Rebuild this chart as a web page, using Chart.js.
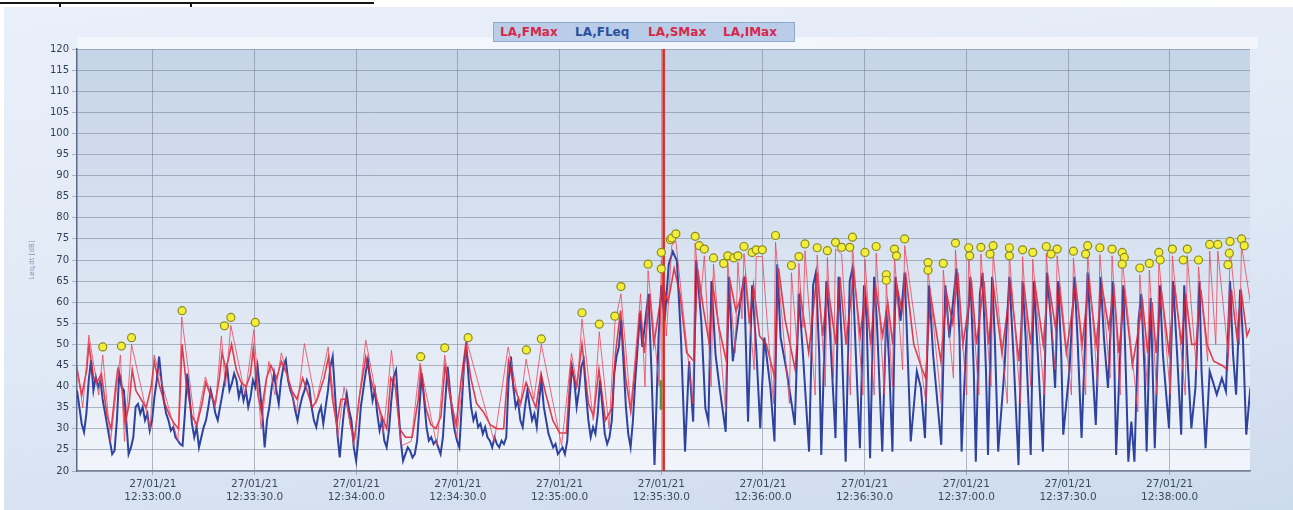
<!DOCTYPE html>
<html>
<head>
<meta charset="utf-8">
<script src="https://cdn.jsdelivr.net/npm/chart.js@4.4.1/dist/chart.umd.min.js"></script>
<style>
html, body { margin: 0; padding: 0; background: #fff; }
#wrap { position: relative; width: 1293px; height: 510px; overflow: hidden; }
#panel { position: absolute; left: 4px; top: 7px; right: 0; bottom: 0;
  background: linear-gradient(172deg, #eaf0fa 0%, #dfe8f5 55%, #cddbee 100%); }
#ruler { position: absolute; left: 0; top: 2px; width: 374px; height: 2px; background: #161616; }
.rt { position: absolute; top: 2px; width: 2px; height: 5px; background: #161616; }
canvas { position: absolute; left: 0; top: 0; }
#legend { position: absolute; left: 493px; top: 22px; width: 300px; height: 18px;
  background: #b9cde8; border: 1px solid #8fa9cf;
  font: bold 12px "DejaVu Sans", sans-serif; line-height: 18px; white-space: nowrap; }
#legend span { position: absolute; top: 0; }
</style>
</head>
<body>
<div id="wrap">
  <div id="panel"></div>
  <div id="ruler"></div>
  <div class="rt" style="left:59px"></div>
  <div class="rt" style="left:190px"></div>
  <canvas id="c" width="1293" height="510"></canvas>
  <div id="legend"></div>
</div>
<script>
// Tempo in secondi rispetto a 12:33:00.0
var xMin = -22.4, xMax = 323.7;
var xTickSeconds = [0, 30, 60, 90, 120, 150, 180, 210, 240, 270, 300];
var xTickDate = '27/01/21';
var xTickTimes = ['12:33:00.0', '12:33:30.0', '12:34:00.0', '12:34:30.0', '12:35:00.0', '12:35:30.0',
                  '12:36:00.0', '12:36:30.0', '12:37:00.0', '12:37:30.0', '12:38:00.0'];

// LA,FLeq prima parte (passo costante)
var blueEarlyStart = -22.4, blueEarlyEnd = 144.4;
var blueEarly = [39.1, 35.2, 31.2, 29.2, 33.6, 41.5, 46.3, 39.1, 42.3, 39.9, 41.5, 36.7, 33.6, 30.4, 27.2, 24.0, 24.8, 32.0, 43.1, 39.9,
  39.1, 32.0, 24.0, 25.6, 28.0, 35.2, 35.9, 33.6, 35.2, 32.0, 33.6, 29.6, 32.0, 37.5, 41.5, 47.1, 41.5, 36.7, 33.6, 32.0,
  29.6, 30.4, 28.0, 27.2, 26.4, 26.0, 33.6, 43.1, 37.5, 31.2, 28.0, 30.4, 25.6, 28.0, 30.4, 32.0, 35.2, 39.1, 36.7, 33.6,
  32.0, 35.2, 38.3, 41.5, 44.7, 39.1, 40.7, 43.1, 41.5, 37.5, 39.9, 36.7, 39.1, 35.2, 37.5, 41.5, 39.9, 44.7, 39.1, 33.6,
  25.6, 32.0, 35.2, 39.9, 43.1, 39.1, 35.9, 41.5, 44.7, 46.3, 41.5, 39.1, 37.5, 34.4, 32.0, 35.2, 37.5, 39.1, 41.5, 39.9,
  35.2, 32.0, 30.4, 33.6, 35.2, 31.2, 35.2, 39.1, 44.7, 47.1, 38.3, 28.8, 23.2, 29.6, 35.2, 38.3, 34.4, 32.0, 25.6, 22.4,
  28.0, 35.2, 39.1, 43.1, 46.3, 41.5, 36.7, 39.1, 33.6, 29.6, 32.0, 27.2, 25.6, 29.6, 36.7, 42.3, 43.9, 35.2, 27.2, 22.4,
  24.0, 25.6, 24.8, 23.2, 24.0, 27.2, 35.2, 43.1, 36.7, 30.4, 27.2, 28.0, 26.4, 27.2, 25.6, 24.0, 28.0, 36.7, 44.7, 39.1,
  33.6, 29.6, 27.2, 25.6, 35.2, 45.5, 49.4, 41.5, 35.2, 32.0, 33.6, 30.4, 31.2, 28.8, 30.4, 28.0, 27.2, 25.6, 28.0, 26.4,
  25.6, 27.2, 26.4, 28.0, 41.5, 47.1, 39.9, 35.2, 36.7, 32.0, 30.4, 35.2, 39.1, 35.2, 32.0, 33.6, 30.4, 36.7, 41.5, 35.2,
  32.0, 28.8, 27.2, 25.6, 26.4, 24.0, 24.8, 25.6, 24.0, 27.2, 36.7, 44.7, 41.5, 35.2, 39.1, 44.7, 46.3, 38.3, 32.0, 28.0,
  30.4, 28.8, 33.6, 41.5, 35.2, 28.8, 26.4, 28.0, 32.0, 43.1, 47.1, 49.4, 55.8, 45.5, 35.2, 28.8, 25.6, 32.0, 41.5, 49.4,
  57.4, 49.4];

// LA,FLeq seconda parte [t, dB]
var blueLate = [[146.2,62],[147.1,43.6],[148.0,21.4],[149.2,51.6],[150.0,64],[151.0,55.6],[152.2,69],[153.4,72],[154.6,69.8],[155.8,51.6],
  [157.0,24.6],[158.2,46.0],[159.4,31.7],[160.3,70],[161.8,55.6],[163.0,34.9],[163.9,31.7],[164.8,65],[166.0,47.6],[167.2,39.7],
  [169.0,29.3],[169.9,66],[171.1,46.0],[172.6,55.6],[174.4,66],[175.6,31.7],[176.8,64],[178.0,49.2],[179.2,30.1],[180.4,51.6],
  [182.2,39.7],[183.4,27.0],[184.2,69],[185.2,51.6],[187.0,43.6],[189.4,30.9],[190.6,62],[191.8,47.6],[193.6,24.6],[194.8,64],
  [195.6,67],[196.6,47.6],[197.2,23.8],[198.7,65],[199.6,55.6],[201.4,27.8],[202.3,66],[203.2,51.6],[204.4,22.2],[205.6,65],
  [206.4,68],[207.4,47.6],[208.6,25.4],[209.8,64],[210.6,55.6],[211.6,23.0],[212.8,66],[213.6,55.6],[215.2,24.6],[216.4,58],
  [217.2,46.0],[218.2,24.6],[219.1,66],[220.6,55.6],[221.8,67],[222.7,47.6],[223.6,27.0],[225.4,43.6],[226.6,39.7],[227.8,27.8],
  [229.0,64],[230.2,47.6],[232.6,26.2],[233.8,64],[235.0,51.6],[237.1,68],[238.0,51.6],[238.6,24.6],[239.8,47.6],[241.2,66],
  [242.2,43.6],[242.8,22.2],[244.0,62],[244.8,67],[245.8,43.6],[246.4,23.8],[247.6,66],[248.4,51.6],[249.4,24.6],[251.2,43.6],
  [252.7,66],[253.9,47.6],[255.4,21.4],[256.6,65],[257.5,51.6],[259.0,23.8],[259.9,65],[261.1,47.6],[262.6,24.6],[263.8,67],
  [265.0,55.6],[266.2,39.7],[267.1,65],[268.0,47.6],[268.6,28.6],[270.4,43.6],[271.9,66],[272.8,51.6],[274.0,27.8],[275.8,67],
  [277.0,47.6],[278.2,30.9],[279.6,66],[280.6,51.6],[281.8,39.7],[283.2,65],[284.2,23.8],[285.4,47.6],[286.3,64],[287.2,39.7],
  [287.8,22.2],[288.7,31.7],[289.6,22.2],[290.8,55.6],[291.6,62],[292.6,43.6],[293.2,24.6],[294.4,61],[295.6,25.4],[297.1,64],
  [298.0,47.6],[299.8,30.1],[301.0,65],[302.2,47.6],[303.4,28.6],[304.3,64],[305.2,47.6],[306.4,30.1],[307.6,39.7],[308.8,65],
  [309.4,43.6],[310.6,25.4],[311.8,43.6],[312.7,41.3],[313.9,38.1],[315.4,42.0],[316.6,38.9],[317.8,65],[318.7,47.6],[319.6,38.1],
  [320.8,63],[321.6,51.6],[322.6,28.6],[323.8,39.7]];

// LA,FMax [t, dB]
var fMax = [[-22.4,45],[-20.7,35],[-18.9,52.2],[-16.0,38],[-14.8,47.5],[-12.5,27],[-9.6,47.5],[-8.4,27],[-6.3,50],[-0.8,30],
  [0.35,47.5],[7.4,27],[8.5,56.5],[12.6,30],[15.5,42.3],[18.4,35],[20.2,52],[21.4,40],[23.0,54.5],[27.2,38],
  [29.8,53.5],[31.9,30],[34.2,46],[36.0,38],[37.9,48],[42.4,34],[44.7,50.2],[48.1,36],[51.7,49.4],[54.6,28],
  [56.4,40],[59.3,26],[62.8,51],[68.0,29],[70.4,48.6],[73.3,26],[76.2,27],[78.8,45.5],[83.8,26],[86.1,47.5],
  [89.6,28],[92.7,50.5],[100.7,27],[104.8,49.4],[108.3,35],[110.1,46.5],[112.4,37],[114.6,50],[120.6,26],[123.5,47.9],
  [125.2,40],[126.6,56],[129.9,32],[131.7,53],[134.6,30],[136.3,55],[138.1,62],[141.0,35],[143.9,62],[145.2,40],
  [146.1,67.5],[149.4,40],[150.0,70],[151.5,52],[153.1,73.5],[154.3,74.5],[159.3,36],[160.0,74],[161.5,60],[162.7,71],
  [164.7,40],[165.4,69],[169.0,34],[169.6,69.5],[171.8,48],[172.6,69.5],[173.8,56],[174.4,71.5],[177.4,44],[178.0,70.8],
  [179.8,70.8],[183.1,36],[183.7,74.2],[187.8,36],[188.4,67],[190.0,50],[190.6,69.2],[191.8,54],[192.4,72.2],[195.4,38],
  [196.0,71.2],[198.4,40],[199.0,70.6],[200.8,42],[201.4,72.6],[203.2,71.4],[205.8,38],[206.4,73.8],[209.5,38],[210.1,70.2],
  [212.8,38],[213.4,71.6],[215.8,38],[216.4,64.5],[218.2,40],[218.8,71],[221.2,44],[221.8,73.4],[228.1,36],[228.7,67.8],
  [232.6,36],[233.2,67.6],[236.2,42],[236.8,72.4],[240.1,38],[240.7,71.3],[243.7,38],[244.3,71.4],[247.3,40],[247.9,71.8],
  [252.1,36],[252.7,71.3],[256.0,36],[256.6,70.8],[259.0,40],[259.6,70.2],[263.0,38],[263.6,71.6],[266.2,44],[266.8,71],
  [271.0,38],[271.6,70.5],[275.2,38],[275.8,71.8],[278.8,40],[279.4,71.3],[282.4,42],[283.0,71],[285.4,38],[286.0,70.2],
  [290.6,34],[291.2,66.5],[293.4,40],[294.0,67.6],[296.2,38],[296.8,70.2],[300.2,38],[300.8,71],[304.6,38],[305.2,71],
  [307.9,44],[308.5,68.4],[311.2,46],[311.8,72.1],[313.6,50],[314.2,72.1],[317.2,48],[317.8,72.8],[320.6,50],[321.2,73.4],
  [323.8,60]];

// LA,SMax [t, dB]
var sMax = [[-22.4,44],[-21,38],[-19.5,44],[-18.9,50],[-17.5,42],[-16.5,41],[-15.2,43],[-13.5,33],[-12.3,30],[-11,40],
  [-10.4,44],[-9.4,42],[-8.2,31],[-7,36],[-6.1,44],[-5,39],[-3.5,37],[-2,35],[-0.5,40],[0.4,46],
  [2,40],[3.5,36],[5,33],[6.5,31],[7.6,30],[8.6,50],[9.8,41],[11.5,33],[13,31],[14.5,36],
  [15.6,41],[17,38],[18.4,36],[19.6,42],[20.4,48],[21.6,44],[23.2,50],[24.6,44],[26,41],[27.5,40],
  [28.8,43],[29.6,49],[31,38],[32,34],[33.5,42],[34.8,45],[36.5,42],[37.9,46],[39.5,43],[41,39],
  [42.5,37],[44.2,42],[45.5,39],[47,35],[48.5,37],[50.5,42],[51.8,47],[53,37],[54.2,31],[55.5,37],
  [57,37],[58.5,30],[59.5,28],[61,38],[62.8,47],[64.2,42],[66,37],[67.5,33],[69,30],[70.2,42],
  [71.5,40],[72.8,30],[74.5,28],[76.5,28],[78.3,37],[79,44],[80.5,35],[82,31],[83.5,30],[85,33],
  [86.2,45],[87.8,37],[89.5,31],[91,42],[92.3,50],[93.8,42],[95.5,36],[97.5,34],[99.5,31],[101.5,30],
  [103.5,30],[104.9,46],[106.5,40],[108.5,36],[110.1,41],[111.5,38],[113,35],[114.5,43],[116,38],[118,32],
  [120,29],[122,29],[123.3,45],[125,40],[126.6,50],[128.5,36],[130,33],[131.6,44],[133.5,32],[135.5,35],
  [136.5,48],[138,58],[139.5,42],[141,34],[142.5,46],[143.8,58],
  [145.0,48],[146.6,62],[147.8,50],[150.4,64],[152.0,60],[153.8,68],[155.5,62],[157.5,48],[159.6,46],[160.7,68],
  [162.5,58],[164.2,50],[165.2,64],[167.0,54],[169.2,46],[170.3,65],[172.0,58],[173.0,60],[174.8,66],[176.0,55],
  [177.2,64],[179.0,52],[181.0,50],[183.5,42],[184.6,68],[186.5,56],[189.5,44],[191.0,62],[193.5,48],[196.0,67],
  [197.6,52],[199.1,64],[201.5,50],[202.7,66],[204.5,50],[206.8,67],[208.7,52],[210.2,63],[211.8,50],[213.2,64],
  [215.3,52],[216.8,60],[218.3,50],[219.5,64],[221.0,58],[222.2,66],[224.5,50],[227.0,44],[228.0,42],[229.4,62],
  [232.5,46],[234.2,62],[236.0,55],[237.5,67],[239.0,50],[241.6,64],[243.0,50],[245.2,65],[246.6,50],[248.0,64],
  [250.5,48],[253.1,64],[255.5,46],[257.0,64],[259.0,50],[260.3,64],[262.7,50],[264.2,65],[266.3,54],[267.5,63],
  [269.5,48],[272.3,64],[274.2,50],[276.2,65],[278.3,50],[280.0,64],[282.0,54],[283.6,63],[285.0,48],[286.7,62],
  [289.0,45],[290.5,52],[292.0,60],[293.5,48],[294.8,60],[296.0,48],[297.5,63],[299.8,48],[301.4,64],[303.5,50],
  [304.7,62],[306.5,50],[307.8,50],[309.2,63],[311.0,50],[313.0,46],[315.5,45],[317.0,44],[318.2,63],[319.8,52],
  [321.2,62],[322.8,52],[323.8,54]];

// LA,IMax [t, dB]
var iMax = [[-14.8,49.4],[-9.3,49.6],[-6.3,51.6],[8.6,58],[21.1,54.4],[23.0,56.4],[30.2,55.2],[79.0,47.1],[86.1,49.2],[93.0,51.6],
  [110.2,48.7],[114.6,51.3],[126.6,57.5],[131.7,54.8],[136.3,56.7],[138.1,63.7],
  [146.1,69],[150.0,71.8],[150.0,67.9],[152.7,74.8],[153.1,75.2],[154.3,76.2],[160.0,75.6],[161.2,73.4],[162.7,72.6],[165.4,70.5],
  [168.4,69.2],[169.6,71.0],[171.4,70.5],[172.6,71.0],[174.4,73.2],[176.8,71.8],[178.0,72.4],[179.8,72.4],[183.7,75.8],[188.4,68.7],
  [190.6,70.8],[192.4,73.8],[196.0,72.9],[199.0,72.2],[201.4,74.2],[203.2,73.0],[205.6,73.0],[206.4,75.4],[210.1,71.8],[213.4,73.2],
  [216.4,66.5],[216.4,65.2],[218.8,72.6],[219.4,71.0],[221.8,75.0],[228.7,69.4],[228.7,67.6],[233.2,69.2],[236.8,74.0],[240.7,72.9],
  [241.0,71.0],[244.3,73.0],[247.0,71.4],[247.9,73.4],[252.7,72.9],[252.7,71.0],[256.6,72.4],[259.6,71.8],[263.6,73.2],[265.0,71.4],
  [266.8,72.6],[271.6,72.1],[275.2,71.4],[275.8,73.4],[279.4,72.9],[283.0,72.6],[286.0,71.8],[286.6,70.6],[286.0,69.0],[291.2,68.1],
  [294.0,69.2],[296.8,71.8],[297.2,70.0],[300.8,72.6],[305.2,72.6],[304.0,70.0],[308.5,70.0],[311.8,73.7],[314.2,73.7],[317.8,74.4],
  [317.6,71.6],[317.2,68.9],[321.2,75.0],[322.0,73.4]];

// Cursore
var cursorTime = 150.7;
var greenMark = [[149.9,34.5],[149.9,41.5]];

var legendNames = ['LA,FMax', 'LA,FLeq', 'LA,SMax', 'LA,IMax'];
var legendColors = ['#d6284a', '#2c4f9c', '#d6284a', '#d6284a'];
var legendLeft = [6, 81, 154, 229];

function pts(pairs) {
    return pairs.map(function(p) { return { x: p[0], y: p[1] }; });
}

var stepEarly = (blueEarlyEnd - blueEarlyStart) / (blueEarly.length - 1);
var bluePts = blueEarly.map(function(v, i) {
    return { x: blueEarlyStart + i * stepEarly, y: v };
}).concat(pts(blueLate));

// Legenda
var leg = document.getElementById('legend');
legendNames.forEach(function(n, i) {
    var s = document.createElement('span');
    s.textContent = n;
    s.style.color = legendColors[i];
    s.style.left = legendLeft[i] + 'px';
    leg.appendChild(s);
});

// Sfondo dell'area del grafico
var plotBg = {
    id: 'plotBg',
    beforeDraw: function(chart) {
        var ctx = chart.ctx, a = chart.chartArea;
        ctx.save();
        ctx.fillStyle = 'rgba(244,247,253,0.85)';
        ctx.fillRect(a.left, a.top - 12, a.right - a.left + 8, 12);
        var g = ctx.createLinearGradient(0, a.top, 0, a.bottom);
        g.addColorStop(0, '#c6d4e8');
        g.addColorStop(0.55, '#dbe5f2');
        g.addColorStop(1, '#f2f5fb');
        ctx.fillStyle = g;
        ctx.fillRect(a.left, a.top, a.right - a.left, a.bottom - a.top);
        ctx.restore();
    }
};

var lineBase = { pointRadius: 0, tension: 0, fill: false };

new Chart(document.getElementById('c').getContext('2d'), {
    type: 'line',
    data: {
        datasets: [
            Object.assign({ label: 'LA,FMax', data: pts(fMax), borderColor: 'rgba(236,70,92,0.8)', borderWidth: 1, order: 2 }, lineBase),
            Object.assign({ label: 'LA,FLeq', data: bluePts, borderColor: '#2e42a0', borderWidth: 2, order: 4 }, lineBase),
            Object.assign({ label: 'LA,SMax', data: pts(sMax), borderColor: 'rgba(218,30,50,0.85)', borderWidth: 1.6, order: 3 }, lineBase),
            {
                label: 'LA,IMax', data: pts(iMax), showLine: false, order: 0,
                pointStyle: 'circle', pointRadius: 4, pointBackgroundColor: '#f3ee3a',
                pointBorderColor: '#8c8a1e', pointBorderWidth: 1.2
            },
            Object.assign({ label: 'cursor', data: [{ x: cursorTime, y: 20 }, { x: cursorTime, y: 120 }],
                borderColor: '#e0281e', borderWidth: 2.5, order: 1 }, lineBase),
            Object.assign({ label: 'mark', data: pts(greenMark), borderColor: '#4f9a3c', borderWidth: 2.5, order: 1 }, lineBase)
        ]
    },
    options: {
        responsive: false,
        animation: false,
        events: [],
        layout: { padding: { left: 0, right: 43, top: 49, bottom: 0 } },
        plugins: { legend: { display: false }, tooltip: { enabled: false } },
        scales: {
            x: {
                type: 'linear',
                min: xMin,
                max: xMax,
                afterFit: function(s) { s.height = 39; },
                afterBuildTicks: function(s) {
                    s.ticks = xTickSeconds.map(function(v) { return { value: v }; });
                },
                ticks: {
                    autoSkip: false,
                    maxRotation: 0,
                    padding: 2,
                    color: '#3a4a60',
                    font: { family: 'DejaVu Sans', size: 10.5, lineHeight: 1.3 },
                    callback: function(v) {
                        var i = xTickSeconds.indexOf(v);
                        return i < 0 ? '' : [xTickDate, xTickTimes[i]];
                    }
                },
                grid: { color: 'rgba(110,120,140,0.5)', lineWidth: 1, tickLength: 4 },
                border: { color: '#7a8498', width: 1.5 }
            },
            y: {
                min: 20,
                max: 120,
                afterFit: function(s) { s.width = 77; },
                ticks: {
                    stepSize: 5,
                    autoSkip: false,
                    padding: 3,
                    color: '#2f3f55',
                    font: { family: 'DejaVu Sans', size: 10 }
                },
                grid: { color: 'rgba(110,120,140,0.5)', lineWidth: 1, tickLength: 5 },
                border: { color: '#5a6a85', width: 1.5 },
                title: {
                    display: true,
                    text: 'Leq,dt [dB]',
                    color: '#8191b0',
                    font: { family: 'DejaVu Sans', size: 7 },
                    padding: { top: 28, bottom: 0 }
                }
            }
        }
    },
    plugins: [plotBg]
});
</script>
</body>
</html>
